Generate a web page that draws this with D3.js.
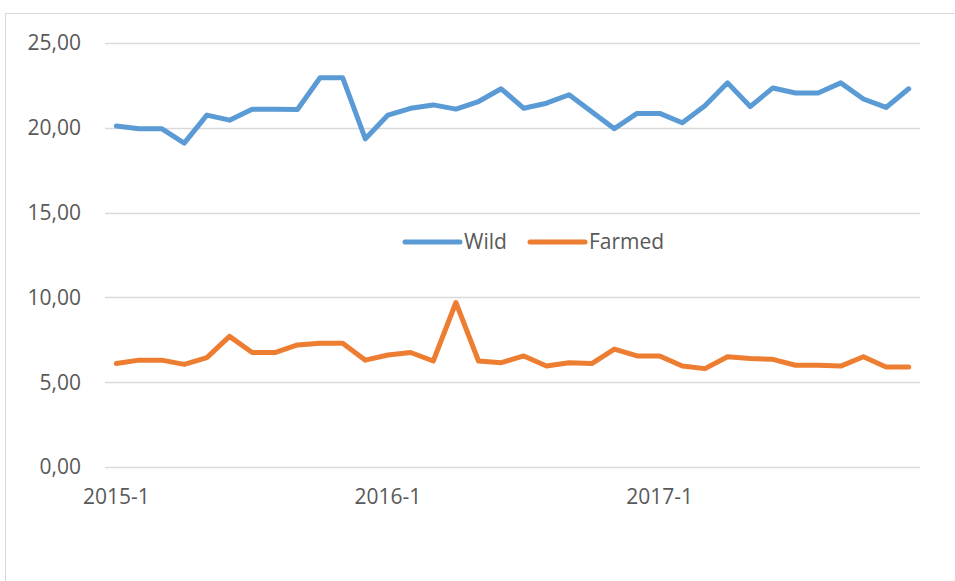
<!DOCTYPE html>
<html>
<head>
<meta charset="utf-8">
<script src="https://cdn.jsdelivr.net/npm/d3@7"></script>
<style>
  body { margin: 0; background: #fff; }
  text { font-family: "Open Sans", sans-serif; fill: #595959; }
</style>
</head>
<body>
<div id="chart"></div>
<script>
// monthly prices, 2015-1 .. 2017-12
var months = [];
for (var yr = 2015; yr <= 2017; yr++) {
  for (var m = 1; m <= 12; m++) months.push(yr + '-' + m);
}

var wild = [20.1, 19.95, 19.95, 19.1, 20.75, 20.45, 21.1, 21.1, 21.08, 22.95, 22.95, 19.35,
            20.75, 21.15, 21.35, 21.1, 21.55, 22.3, 21.15, 21.45, 21.95, 20.95, 19.95, 20.85,
            20.85, 20.3, 21.3, 22.65, 21.25, 22.35, 22.05, 22.05, 22.65, 21.7, 21.2, 22.3];

var farmed = [6.1, 6.3, 6.3, 6.05, 6.45, 7.7, 6.75, 6.75, 7.2, 7.3, 7.3, 6.3,
              6.6, 6.75, 6.25, 9.7, 6.25, 6.15, 6.55, 5.95, 6.15, 6.1, 6.95, 6.55,
              6.55, 5.95, 5.8, 6.5, 6.4, 6.35, 6.0, 6.0, 5.95, 6.5, 5.9, 5.9];

var yTicks = [0, 5, 10, 15, 20, 25];
var xLabels = ['2015-1', '2016-1', '2017-1'];

var series = [
  { name: 'Wild', values: wild, color: '#5b9bd5' },
  { name: 'Farmed', values: farmed, color: '#ed7d31' }
];

var w = 955, h = 581;

var svg = d3.select('#chart').append('svg')
  .attr('width', w)
  .attr('height', h);

// chart frame (runs off the window on the right and bottom)
svg.append('rect')
  .attr('x', 5.5)
  .attr('y', 13.5)
  .attr('width', 1000)
  .attr('height', 700)
  .attr('fill', 'none')
  .attr('stroke', '#d9d9d9')
  .attr('stroke-width', 1);

var x = d3.scalePoint()
  .domain(months)
  .range([105, 920])
  .padding(0.5);

var y = d3.scaleLinear()
  .domain([0, 25])
  .range([467, 43]);

var fmt = d3.formatLocale({ decimal: ',', thousands: '.', grouping: [3], currency: ['', ''] }).format('.2f');

// gridlines
svg.append('g').selectAll('line')
  .data(yTicks)
  .enter().append('line')
  .attr('x1', 105)
  .attr('x2', 920)
  .attr('y1', function(d) { return Math.round(y(d)) + 0.5; })
  .attr('y2', function(d) { return Math.round(y(d)) + 0.5; })
  .attr('stroke', '#d9d9d9')
  .attr('stroke-width', 1.5);

// y labels
svg.append('g').selectAll('text')
  .data(yTicks)
  .enter().append('text')
  .attr('x', 81)
  .attr('y', function(d) { return y(d); })
  .attr('dy', '0.35em')
  .attr('text-anchor', 'end')
  .style('font-size', '21px')
  .text(function(d) { return fmt(d); });

// x labels
svg.append('g').selectAll('text')
  .data(xLabels)
  .enter().append('text')
  .attr('x', function(d) { return x(d); })
  .attr('y', 504)
  .attr('text-anchor', 'middle')
  .style('font-size', '21px')
  .text(function(d) { return d; });

var line = d3.line()
  .x(function(d, i) { return x(months[i]); })
  .y(function(d) { return y(d); });

svg.append('g').selectAll('path')
  .data(series)
  .enter().append('path')
  .attr('d', function(d) { return line(d.values); })
  .attr('fill', 'none')
  .attr('stroke', function(d) { return d.color; })
  .attr('stroke-width', 5)
  .attr('stroke-linejoin', 'round')
  .attr('stroke-linecap', 'round');

// legend
var legendX = [405, 530];
var leg = svg.append('g').selectAll('g')
  .data(series)
  .enter().append('g')
  .attr('transform', function(d, i) { return 'translate(' + legendX[i] + ',242)'; });

leg.append('line')
  .attr('x1', 0)
  .attr('x2', 55)
  .attr('stroke', function(d) { return d.color; })
  .attr('stroke-width', 5)
  .attr('stroke-linecap', 'round');

leg.append('text')
  .attr('x', 59)
  .attr('y', 7)
  .style('font-size', '21px')
  .text(function(d) { return d.name; });
</script>
</body>
</html>
